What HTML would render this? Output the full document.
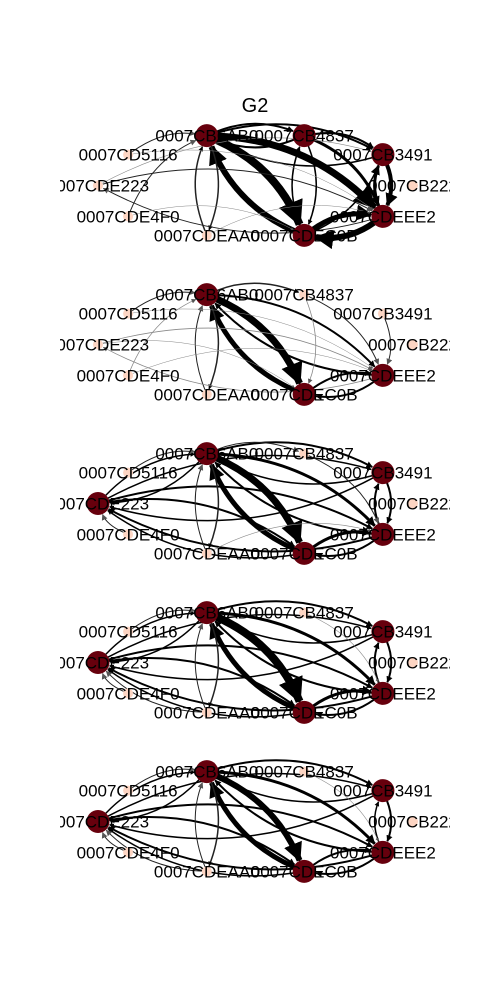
<!DOCTYPE html>
<html><head><meta charset="utf-8"><style>
html,body{margin:0;padding:0;background:#fff;}
svg{display:block;font-family:"Liberation Sans","DejaVu Sans",sans-serif;}
</style></head><body>
<svg id="chart" width="500" height="1000" viewBox="0 0 500 1000">
<defs>
<clipPath id="clip"><rect x="60" y="0" width="390" height="1000"/></clipPath>
<marker id="arr" viewBox="0 0 10 10" refX="9" refY="5" markerWidth="3.2" markerHeight="3.2" orient="auto" markerUnits="strokeWidth"><path d="M0,0 L10,5 L0,10 z" fill="#000"/></marker>
<marker id="arrg" viewBox="0 0 10 10" refX="9" refY="5" markerWidth="6" markerHeight="6" orient="auto" markerUnits="strokeWidth"><path d="M0,0 L10,5 L0,10 z" fill="#555"/></marker>
</defs>
<text x="255" y="112" font-size="20" text-anchor="middle">G2</text>
<g id="panels" clip-path="url(#clip)"></g>
</svg>
<script>
const nodeNames = ["0007CB222","0007CB3491","0007CB4837","0007CB6AB0","0007CD5116","0007CDE223","0007CDE4F0","0007CDEAA0","0007CDEC0B","0007CDEEE2"];
const panelActive = [
  [0,1,1,1,0,0,0,0,1,1],
  [0,0,0,1,0,0,0,0,1,1],
  [0,1,0,1,0,1,0,0,1,1],
  [0,1,0,1,0,1,0,0,1,1],
  [0,1,0,1,0,1,0,0,1,1]
];
// edges: [source, target, width]
const edges1 = [[3,8,8],[8,3,6],[3,9,7],[9,8,6],[8,9,5],[1,9,4],[9,1,3],[2,9,3],[3,2,2],[2,3,2],[3,1,2],[2,1,2],[1,3,1.5],[3,7,1.5],[7,3,1.5],[4,3,1],[6,3,1],[5,9,1],[9,5,1],[2,8,1.5],[8,2,1.5],[1,8,1.5],[5,1,0.6],[4,9,0.5],[6,8,0.5],[7,9,0.5]];
const edges2 = [[3,8,7],[8,3,5],[3,9,2],[9,3,2],[8,9,2],[9,8,2],[3,2,1.5],[2,9,1],[3,7,1.5],[7,3,1],[4,3,1],[6,3,0.8],[5,9,0.8],[9,5,0.8],[1,9,1],[2,8,0.8],[6,9,0.5],[4,9,0.5],[5,8,0.5]];
const edges3 = [[3,8,7],[8,3,5],[3,9,3],[9,3,2],[8,9,3],[9,8,2],[3,1,2],[1,3,1.5],[1,9,2],[9,1,2],[5,9,2],[9,5,2],[5,8,2],[8,5,1.5],[5,3,1.5],[3,5,1.5],[5,1,1.5],[1,5,1.5],[3,7,1.5],[7,3,1],[4,3,1],[6,5,1],[3,2,1],[2,9,1],[7,9,0.6]];
const edges4 = [[3,8,8],[8,3,5],[3,9,3],[9,3,2],[8,9,3],[9,8,2],[3,1,2],[1,3,1.5],[1,9,2],[9,1,2],[5,9,2],[9,5,2],[5,8,2],[8,5,1.5],[5,3,1.5],[3,5,1.5],[5,1,1.5],[1,5,1.5],[3,7,1.5],[7,3,1],[4,3,1],[6,5,1],[7,5,1],[2,9,0.6]];
const edges5 = [[3,8,6],[8,3,5],[3,9,3],[9,3,2],[8,9,2],[9,8,2],[3,1,2],[1,3,1.5],[1,9,2],[9,1,1.5],[5,9,2],[9,5,2],[5,8,2],[8,5,1.5],[5,3,1.5],[3,5,1.5],[5,1,1.5],[1,5,1.5],[3,7,1.5],[7,3,1],[4,3,1],[6,5,1],[7,5,1],[2,9,0.6]];
const panelEdges = [edges1,edges2,edges3,edges4,edges5];

const NS="http://www.w3.org/2000/svg";
const root=document.getElementById('panels');
const cx=255.5, rx=157.5, ry=52.5, dyPanel=159, cy0=185.5;
function pos(i,p){const a=i*36*Math.PI/180;return [cx+rx*Math.cos(a), cy0+p*dyPanel-ry*Math.sin(a)];}
panelEdges.forEach((edges,p)=>{
  const g=document.createElementNS(NS,'g');
  
  
  root.appendChild(g);
  const act=panelActive[p];
  edges.forEach(e=>{
    const [s,t,w]=e;
    const [x1,y1]=pos(s,p),[x2,y2]=pos(t,p);
    const dx=x2-x1,dy=y2-y1;
    const rs=act[s]?11:5, rt=act[t]?12:6;
    const qx=(x1+x2)/2+0.2*dy, qy=(y1+y2)/2-0.2*dx;
    const v1x=qx-x1,v1y=qy-y1,l1=Math.hypot(v1x,v1y);
    const v2x=qx-x2,v2y=qy-y2,l2=Math.hypot(v2x,v2y);
    const sx=x1+v1x/l1*rs, sy=y1+v1y/l1*rs, tx=x2+v2x/l2*rt, ty=y2+v2y/l2*rt;
    const strong=act[s]&&act[t];
    const path=document.createElementNS(NS,'path');
    path.setAttribute('d',`M${sx},${sy} Q${qx},${qy} ${tx},${ty}`);
    path.setAttribute('fill','none');
    path.setAttribute('stroke',strong?'#000':(w>=1?'#222':'#888'));
    path.setAttribute('stroke-width',w);
    path.setAttribute('marker-end',w<1.2?'url(#arrg)':'url(#arr)');
    
    
    g.appendChild(path);
  });
  nodeNames.forEach((n,i)=>{
    const [x,y]=pos(i,p);
    const c=document.createElementNS(NS,'circle');
    c.setAttribute('cx',x);c.setAttribute('cy',y);
    c.setAttribute('r',act[i]?11.5:5);
    c.setAttribute('fill',act[i]?'#67000d':'#fdd5c3');
    
    
    g.appendChild(c);
  });
  nodeNames.forEach((n,i)=>{
    const [x,y]=pos(i,p);
    const tx=document.createElementNS(NS,'text');
    tx.setAttribute('x',x);tx.setAttribute('y',y+6);
    tx.setAttribute('font-size','17');
    tx.setAttribute('text-anchor','middle');
    tx.textContent=n;
    
    
    g.appendChild(tx);
  });
});
</script>
</body></html>
